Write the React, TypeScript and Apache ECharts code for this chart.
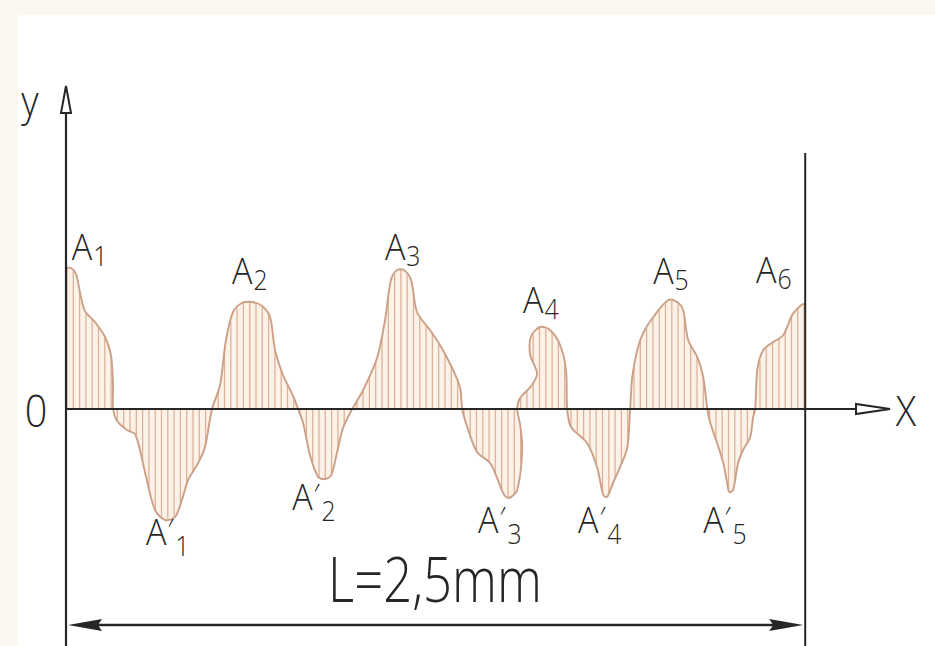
import React, { useEffect, useRef } from "react";
import * as echarts from "echarts";

// Surface profile, x in µm along the sampling length, y in µm (arbitrary scale)
const profileX = [
  0, 17, 34, 47, 64, 98, 132, 152, 159, 159,
  173, 206, 233, 250, 271, 301, 335, 369, 392, 413,
  447, 470, 494, 521, 541, 565, 595, 629, 663, 690,
  707, 734, 768, 785, 802, 825, 853, 876, 897, 917,
  937, 968, 1005, 1052, 1079, 1099, 1120, 1143, 1167, 1187,
  1231, 1265, 1306, 1333, 1340, 1357, 1390, 1434, 1458, 1482,
  1499, 1526, 1543, 1536, 1526, 1536, 1576, 1593, 1570, 1573,
  1604, 1637, 1671, 1691, 1695, 1708, 1762, 1796, 1817, 1830,
  1850, 1874, 1898, 1908, 1915, 1932, 1952, 1986, 2037, 2067,
  2087, 2104, 2135, 2155, 2169, 2179, 2202, 2223, 2236, 2243,
  2256, 2273, 2290, 2314, 2324, 2331, 2338, 2358, 2392, 2426,
  2456, 2483, 2500,
];
const profileY = [
  141, 141, 135, 117, 98, 87, 72, 54, 24, 0,
  -12, -21, -25, -41, -68, -101, -111, -108, -91, -71,
  -54, -38, 0, 24, 69, 97, 106, 107, 103, 92,
  59, 34, 13, 0, -14, -46, -68, -70, -66, -43,
  -19, 0, 19, 51, 89, 129, 139, 139, 129, 97,
  79, 64, 41, 21, 0, -18, -43, -54, -69, -86,
  -89, -81, -41, -16, 0, 11, 24, 36, 54, 73,
  82, 79, 64, 39, 0, -18, -34, -58, -86, -88,
  -74, -58, -39, 0, 32, 59, 76, 92, 109, 107,
  99, 69, 52, 32, 0, -14, -34, -54, -74, -83,
  -81, -54, -41, -28, -8, 0, 39, 59, 67, 74,
  94, 103, 106,
];

const lengthL = 2500;
const axisMaxX = 2780;
const yMin = -237;
const yMax = 321;
const boundTopY = 256;
const dimY = -216;

const peakSubs = ["1", "2", "3", "4", "5", "6"];
const peakX = [57, 599, 1116, 1583, 2023, 2371];
const peakY = [164, 140, 164, 111, 140, 141];

const valleySubs = ["1", "2", "3", "4", "5"];
const valleyX = [308, 802, 1431, 1769, 2192];
const valleyY = [-121, -86, -109, -109, -109];

const lengthLabel = "L=2,5mm";
const lengthLabelX = 1248;
const lengthLabelY = -169;
const yName = "y";
const xName = "X";
const zeroName = "0";

const FONT = "'Open Sans', 'DejaVu Sans Condensed', sans-serif";
const WEIGHT = 300;
const INK = "#262626";

export default function App() {
  const ref = useRef<HTMLDivElement>(null);

  useEffect(() => {
    document.body.style.margin = "0";
    document.body.style.background = "#fcf8f1";
    const chart = echarts.init(ref.current!, undefined, { renderer: "svg" });

    const renderProfile = (_params: any, api: any) => {
      const pts = profileX.map((x, i) => api.coord([x, profileY[i]]));
      const zeroY = api.coord([0, 0])[1];
      const x0 = pts[0][0];
      const x1 = pts[pts.length - 1][0];
      const poly = [[x0, zeroY], ...pts, [x1, zeroY]];
      const children: any[] = [];
      children.push({
        type: "polygon",
        shape: { points: poly, smooth: 0 },
        style: { fill: "#fdf2e8", stroke: "none" },
      });
      for (let hx = x0 + 1; hx < x1; hx += 6.3) {
        const ys: number[] = [];
        for (let i = 0; i < poly.length; i++) {
          const a = poly[i];
          const b = poly[(i + 1) % poly.length];
          if ((a[0] <= hx && b[0] > hx) || (b[0] <= hx && a[0] > hx)) {
            const t = (hx - a[0]) / (b[0] - a[0]);
            ys.push(a[1] + t * (b[1] - a[1]));
          }
        }
        ys.sort((p, q) => p - q);
        for (let k = 0; k + 1 < ys.length; k += 2) {
          children.push({
            type: "line",
            shape: { x1: hx, y1: ys[k], x2: hx, y2: ys[k + 1] },
            style: { stroke: "#dcb39a", lineWidth: 1.3 },
          });
        }
      }
      children.push({
        type: "polyline",
        shape: { points: pts, smooth: 0.3 },
        style: { stroke: "#cba086", lineWidth: 1.9, fill: "none" },
      });
      // right boundary of sampling length
      const bTop = api.coord([lengthL, boundTopY]);
      const bBot = api.coord([lengthL, yMin]);
      children.push({
        type: "line",
        shape: { x1: bTop[0], y1: bTop[1], x2: bBot[0], y2: bBot[1] },
        style: { stroke: INK, lineWidth: 2 },
      });
      // dimension line
      const dL = api.coord([0, dimY]);
      const dR = api.coord([lengthL, dimY]);
      const lx = dL[0] + 2;
      const rx = dR[0] - 2;
      const y = dL[1];
      children.push({
        type: "line",
        shape: { x1: lx + 20, y1: y, x2: rx - 20, y2: y },
        style: { stroke: INK, lineWidth: 2.5 },
      });
      children.push({
        type: "polygon",
        shape: { points: [[lx, y], [lx + 34, y - 6], [lx + 30, y], [lx + 34, y + 6]] },
        style: { fill: INK },
      });
      children.push({
        type: "polygon",
        shape: { points: [[rx, y], [rx - 34, y - 6], [rx - 30, y], [rx - 34, y + 6]] },
        style: { fill: INK },
      });
      return { type: "group", children };
    };

    const base = { fontFamily: FONT, fontWeight: WEIGHT, color: INK, verticalAlign: "top" };
    const rich = {
      a: { ...base, fontSize: 37, lineHeight: 36 },
      p: { ...base, fontSize: 30, lineHeight: 30, padding: [1, 1, 0, 1] },
      s: { ...base, fontSize: 27, lineHeight: 26, padding: [15, 0, 0, 1] },
      t: { ...base, fontSize: 27, lineHeight: 26, padding: [20, 0, 0, 1] },
    };

    const renderLabels = (_params: any, api: any) => {
      const children: any[] = [];
      peakX.forEach((x, i) => {
        const p = api.coord([x, peakY[i]]);
        children.push({
          type: "text",
          x: p[0] - 11,
          y: p[1] - 18,
          scaleX: 0.92,
          style: { text: `{a|A}{s|${peakSubs[i]}}`, rich, align: "left", verticalAlign: "top", fontFamily: FONT, fill: INK },
        });
      });
      valleyX.forEach((x, i) => {
        const p = api.coord([x, valleyY[i]]);
        children.push({
          type: "text",
          x: p[0] - 11,
          y: p[1] - 18,
          scaleX: 0.92,
          style: { text: `{a|A}{p|′}{t|${valleySubs[i]}}`, rich, align: "left", verticalAlign: "top", fontFamily: FONT, fill: INK },
        });
      });
      const c = api.coord([lengthLabelX, lengthLabelY]);
      children.push({
        type: "text",
        x: c[0],
        y: c[1],
        scaleX: 0.82,
        style: { text: lengthLabel, fontSize: 62, fontWeight: WEIGHT, fontFamily: FONT, fill: INK, align: "center", verticalAlign: "middle" },
      });
      return { type: "group", children };
    };

    const plain = (x: number, y: number, text: string, size: number) => ({
      type: "text",
      z: 100,
      x,
      y,
      scaleX: 0.9,
      style: { text, fontSize: size, fontWeight: WEIGHT, fontFamily: FONT, fill: INK, align: "center", verticalAlign: "middle" },
    });

    chart.setOption({
      animation: false,
      backgroundColor: "#fcf8f1",
      grid: { left: 66, right: 47, top: 88, bottom: 0 },
      xAxis: {
        type: "value",
        min: 0,
        max: axisMaxX,
        z: 5,
        axisLine: { show: true, onZero: true, lineStyle: { color: INK, width: 2.2 } },
        axisTick: { show: false },
        axisLabel: { show: false },
        splitLine: { show: false },
      },
      yAxis: {
        type: "value",
        min: yMin,
        max: yMax,
        z: 5,
        axisLine: { show: true, onZero: false, lineStyle: { color: INK, width: 2.2 } },
        axisTick: { show: false },
        axisLabel: { show: false },
        splitLine: { show: false },
      },
      graphic: [
        { type: "rect", z: -100, silent: true, shape: { x: 18, y: 15, width: 917, height: 631 }, style: { fill: "#ffffff" } },
        { type: "polygon", z: 100, shape: { points: [[66, 86], [61, 113], [71, 113]] }, style: { fill: "#fff", stroke: INK, lineWidth: 2 } },
        { type: "polygon", z: 100, shape: { points: [[890, 409], [856, 404], [856, 414]] }, style: { fill: "#fff", stroke: INK, lineWidth: 2 } },
        plain(30, 100, yName, 42),
        plain(36, 410, zeroName, 44),
        plain(906, 410, xName, 42),
      ],
      series: [
        { type: "custom", z: 2, renderItem: renderProfile, data: [[0, 0]], silent: true },
        { type: "custom", z: 6, renderItem: renderLabels, data: [[0, 0]], silent: true },
      ],
    });
    return () => chart.dispose();
  }, []);

  return <div ref={ref} style={{ width: 935, height: 646 }} />;
}
